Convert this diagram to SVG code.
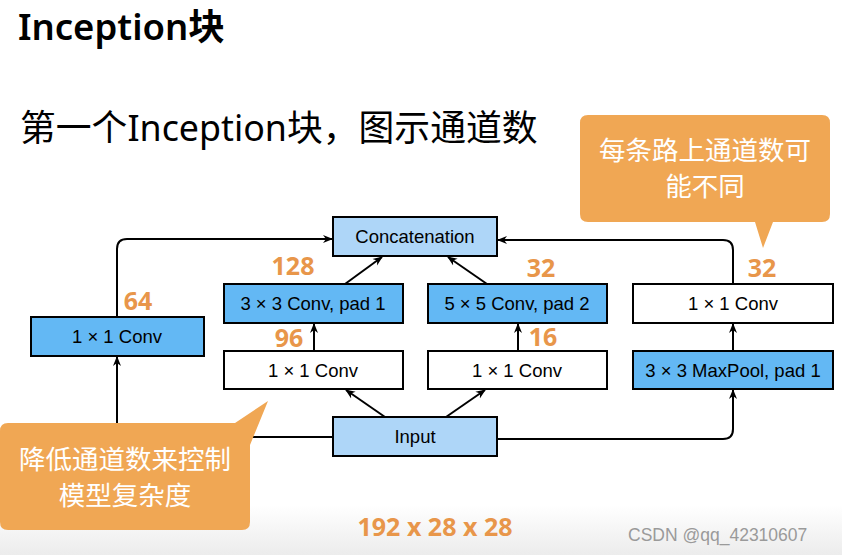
<svg xmlns="http://www.w3.org/2000/svg" width="842" height="555" viewBox="0 0 842 555">
<defs>
<marker id="arr" markerWidth="10" markerHeight="10" refX="9" refY="5" orient="auto" markerUnits="userSpaceOnUse">
<path d="M0,1 L10,5 L0,9 L3,5 Z" fill="#000"/>
</marker>
<linearGradient id="bg" x1="0" y1="0" x2="0" y2="1">
<stop offset="0" stop-color="#ffffff"/>
<stop offset="1" stop-color="#ececec"/>
</linearGradient>
</defs>
<style>
.box{stroke:#000;stroke-width:2}
.lb{fill:#aed6f8}
.db{fill:#63b8f4}
.wh{fill:#fff}
.bt{font-family:"Liberation Sans",Arial,sans-serif;font-size:18.5px;fill:#000;text-anchor:middle}
.num{font-family:"Noto Sans","Open Sans",sans-serif;font-weight:bold;font-size:25px;fill:#e8964a;text-anchor:middle}
.ln{fill:none;stroke:#000;stroke-width:2}
.co{fill:#f0a754}
.ct{font-family:"Noto Sans CJK SC",sans-serif;font-size:26.5px;fill:#fff;text-anchor:middle}
</style>
<rect width="842" height="555" fill="#fff"/>
<rect x="0" y="505" width="842" height="50" fill="url(#bg)"/>
<text x="18" y="40" font-family="'Noto Sans','Noto Sans CJK SC',sans-serif" font-weight="600" font-size="36.5" fill="#000">Inception块</text>
<text x="20" y="141" font-family="'Noto Sans','Noto Sans CJK SC',sans-serif" font-size="35.8" fill="#000">第一个Inception块，图示通道数</text>

<g id="connectors">
<path class="ln" d="M333,437 H117 V357" marker-end="url(#arr)"/>
<path class="ln" d="M117,317 V249 Q117,239 127,239 H332" marker-end="url(#arr)"/>
<path class="ln" d="M345,284 L382,257" marker-end="url(#arr)"/>
<path class="ln" d="M487,284 L448,257" marker-end="url(#arr)"/>
<path class="ln" d="M733,284 V250 Q733,240 723,240 H498" marker-end="url(#arr)"/>
<path class="ln" d="M385,417 L346,390" marker-end="url(#arr)"/>
<path class="ln" d="M446,417 L485,390" marker-end="url(#arr)"/>
<path class="ln" d="M314,351 V324" marker-end="url(#arr)"/>
<path class="ln" d="M518,351 V324" marker-end="url(#arr)"/>
<path class="ln" d="M733,351 V324" marker-end="url(#arr)"/>
<path class="ln" d="M497,439 H723 Q733,439 733,429 V390" marker-end="url(#arr)"/>
</g>

<g id="concat"><rect class="box lb" x="333" y="217" width="164" height="39"/><text class="bt" x="415" y="243">Concatenation</text></g>
<g id="conv3"><rect class="box db" x="224" y="284" width="179" height="39"/><text class="bt" x="313" y="310">3 × 3 Conv, pad 1</text></g>
<g id="conv5"><rect class="box db" x="428" y="284" width="179" height="39"/><text class="bt" x="517" y="310">5 × 5 Conv, pad 2</text></g>
<g id="conv1r"><rect class="box wh" x="633" y="284" width="200" height="39"/><text class="bt" x="733" y="310">1 × 1 Conv</text></g>
<g id="conv1l"><rect class="box db" x="31" y="317" width="173" height="39"/><text class="bt" x="117" y="343">1 × 1 Conv</text></g>
<g id="conv1a"><rect class="box wh" x="224" y="351" width="179" height="38"/><text class="bt" x="313" y="377">1 × 1 Conv</text></g>
<g id="conv1b"><rect class="box wh" x="428" y="351" width="179" height="38"/><text class="bt" x="517" y="377">1 × 1 Conv</text></g>
<g id="maxpool"><rect class="box db" x="633" y="351" width="200" height="38"/><text class="bt" x="733" y="377">3 × 3 MaxPool, pad 1</text></g>
<g id="input"><rect class="box lb" x="333" y="417" width="164" height="39"/><text class="bt" x="415" y="443">Input</text></g>

<g id="labels">
<text class="num" x="138" y="310">64</text>
<text class="num" x="293" y="275">128</text>
<text class="num" x="289" y="347">96</text>
<text class="num" x="541" y="277">32</text>
<text class="num" x="543" y="346">16</text>
<text class="num" x="762" y="277">32</text>
<text class="num" x="435" y="536">192 x 28 x 28</text>
</g>

<g id="callout-top">
<path class="co" d="M588,115 H822 Q830,115 830,123 V214 Q830,222 822,222 H773 L763,248 L755,222 H588 Q580,222 580,214 V123 Q580,115 588,115 Z"/>
<text class="ct" x="705" y="160">每条路上通道数可</text>
<text class="ct" x="705" y="196">能不同</text>
</g>
<g id="callout-bottom">
<path class="co" d="M8,423 H235 L268,401 L250,445 V522 Q250,530 242,530 H8 Q0,530 0,522 V431 Q0,423 8,423 Z"/>
<text class="ct" x="125" y="469">降低通道数来控制</text>
<text class="ct" x="125" y="505">模型复杂度</text>
</g>
<text x="628" y="541" font-family="'Liberation Sans',Arial,sans-serif" font-size="17.5" fill="#9a9a9a">CSDN @qq_42310607</text>
</svg>
